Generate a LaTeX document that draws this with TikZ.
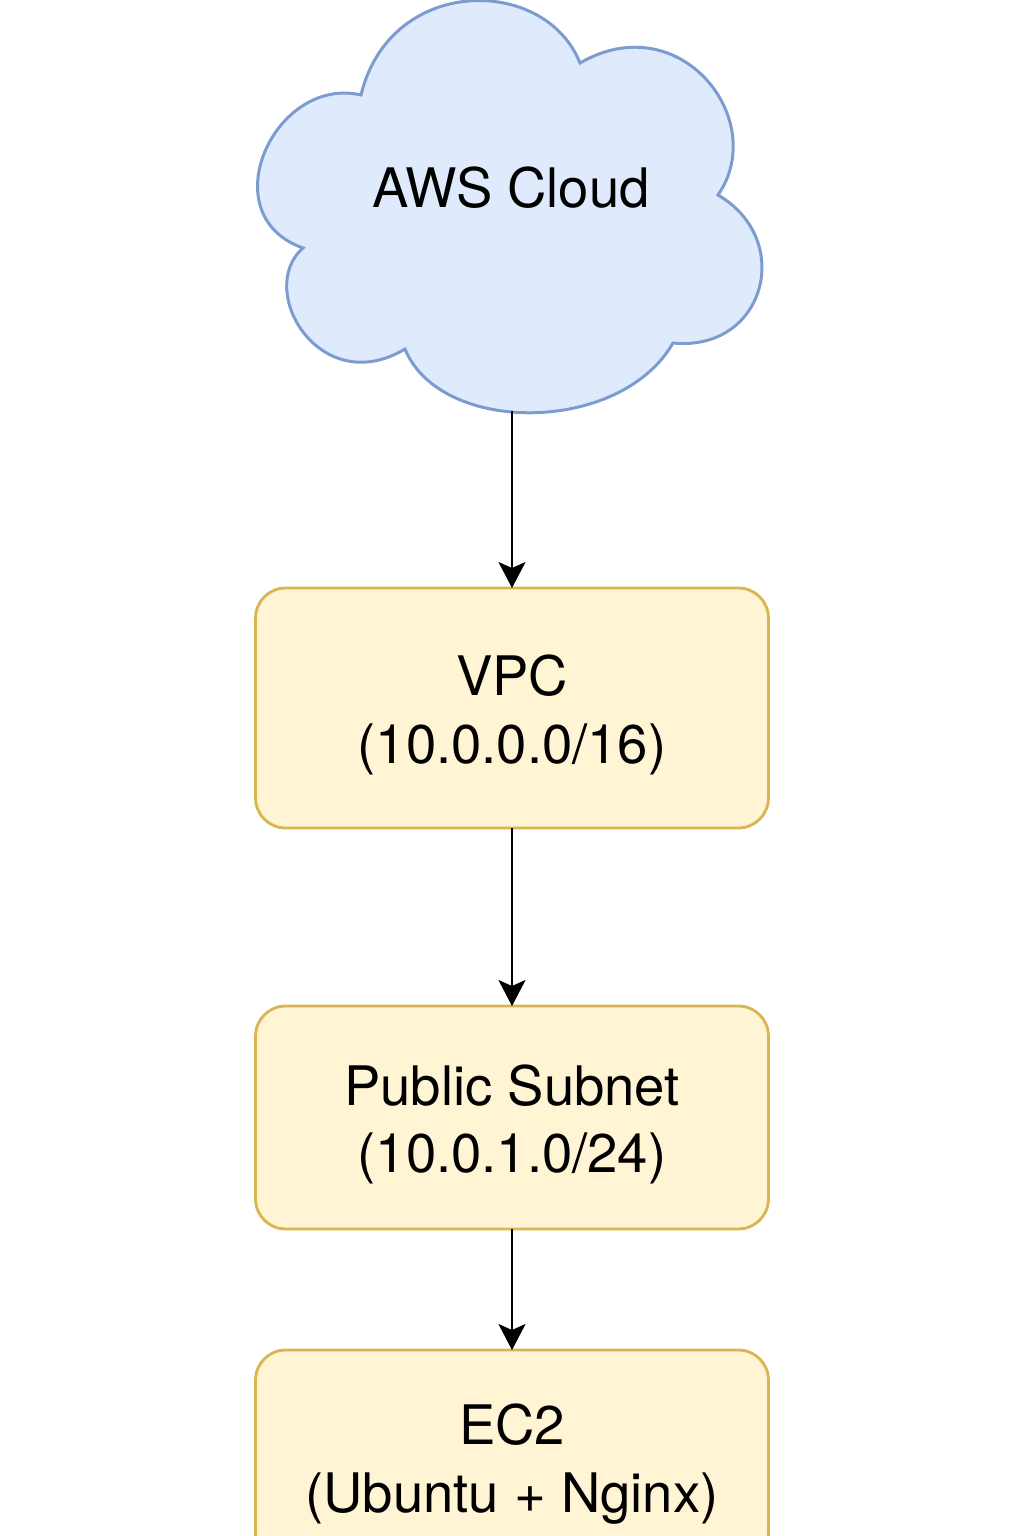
\documentclass[tikz,border=0pt]{standalone}
\usepackage{fontspec}
\setmainfont{TeX Gyre Heros}
\usetikzlibrary{arrows.meta}
\definecolor{cloudfill}{HTML}{DFEBFC}
\definecolor{cloudline}{HTML}{7C9BCF}
\definecolor{boxfill}{HTML}{FFF4D4}
\definecolor{boxline}{HTML}{D9B54F}
\newcommand{\capgap}{\rule{0pt}{31pt}}

\begin{document}
\begin{tikzpicture}[x=0.02cm,y=-0.02cm,
  box/.style={draw=boxline,fill=boxfill,line width=1.6pt,rounded corners=0.6cm,minimum width=10.26cm,inner sep=0pt,outer sep=0pt,align=center,font=\fontsize{31}{38.5}\selectfont},
  link/.style={-{Stealth[length=0.52cm,width=0.54cm,inset=0.12cm]},line width=1.5pt}]
\useasboundingbox (0,0) rectangle (1024,1536);
\draw[fill=cloudfill,draw=cloudline,line width=1.7pt] (361,95)
  .. controls (275,75) and (210,215) .. (303,248)
  .. controls (255,290) and (320,400) .. (405,349)
  .. controls (440,435) and (620,435) .. (673,343)
  .. controls (765,352) and (795,240) .. (718,195)
  .. controls (770,120) and (680,5) .. (580,63)
  .. controls (545,-25) and (390,-25) .. (361,95) -- cycle;
\node[font=\fontsize{31}{38.5}\selectfont] (cloud) at (511,188) {AWS Cloud};
\coordinate (cloudbot) at (512,411);

\node[box,minimum height=4.8cm] (vpc) at (512,708) {\capgap VPC\\(10.0.0.0/16)};
\node[box,minimum height=4.46cm] (subnet) at (512,1117.5) {\capgap Public Subnet\\(10.0.1.0/24)};
\node[box,minimum height=4.28cm] (ec2) at (512,1457) {\capgap EC2\\(Ubuntu + Nginx)};

\draw[link] (cloudbot) -- (vpc.north);
\draw[link] (vpc.south) -- (subnet.north);
\draw[link] (subnet.south) -- (ec2.north);

\end{tikzpicture}
\end{document}
